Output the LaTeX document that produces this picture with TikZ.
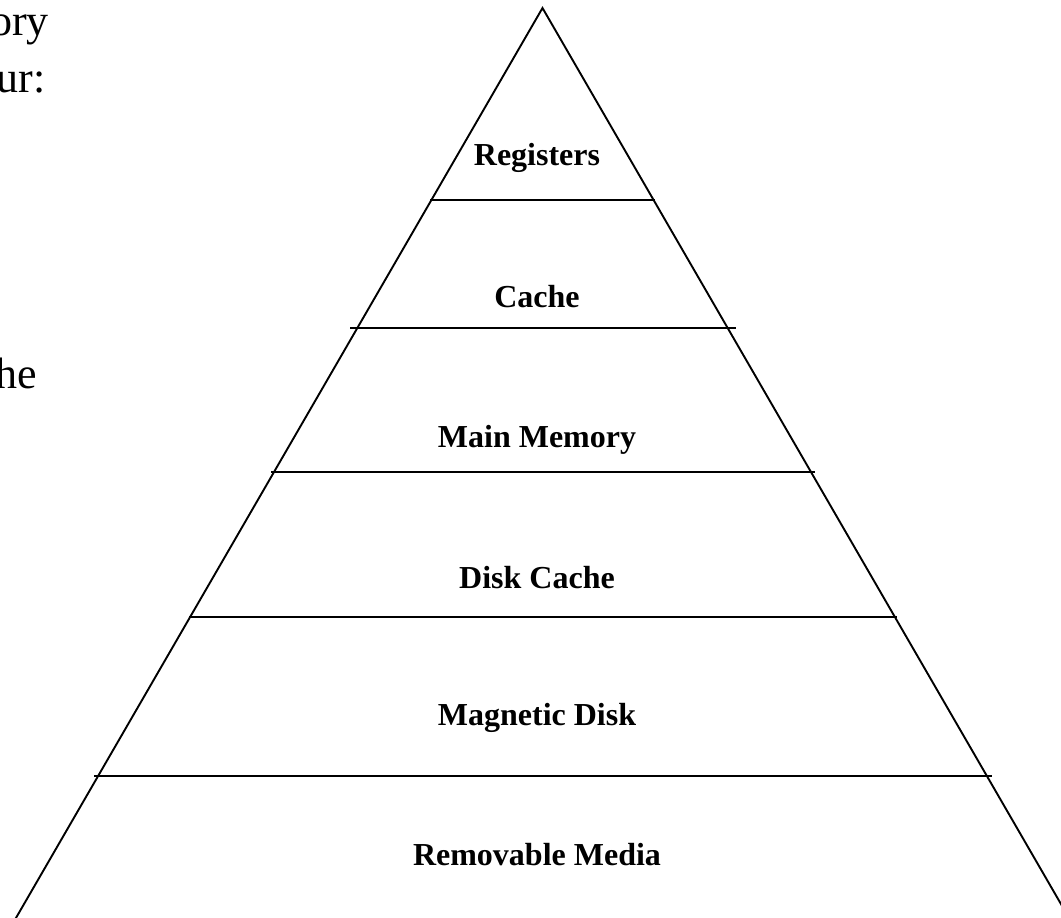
\documentclass[tikz,border=0pt]{standalone}
\usepackage{fontspec}
\setmainfont{Liberation Serif}
\begin{document}
\begin{tikzpicture}[x=1pt,y=-1pt,
  tier/.style={line width=1.9pt},
  level/.style={font=\fontsize{32}{38}\selectfont\bfseries, anchor=base, inner sep=0pt},
  slide/.style={font=\fontsize{44}{52}\selectfont, anchor=base east, inner sep=0pt}]
  \useasboundingbox (0,0) rectangle (1061,918);
  \clip (0,0) rectangle (1061,918);
  % leftover slide text at the left margin
  \node[slide] (t1) at (49,35) {ory};
  \node[slide] (t2) at (46,92) {ur:};
  \node[slide] (t3) at (37,388) {he};
  % pyramid outline
  \coordinate (apex) at (542.5,8);
  \coordinate (bl) at (542.5-533.5,930);
  \coordinate (br) at (542.5+533.5,930);
  \draw[tier, line join=miter] (bl) -- (apex) -- (br);
  % tier dividers
  \coordinate (d1l) at (430,200); \coordinate (d1r) at (655,200);
  \coordinate (d2l) at (350,328); \coordinate (d2r) at (736,328);
  \coordinate (d3l) at (271,472); \coordinate (d3r) at (815,472);
  \coordinate (d4l) at (189,617); \coordinate (d4r) at (897,617);
  \coordinate (d5l) at (94,776);  \coordinate (d5r) at (992,776);
  \draw[tier] (d1l) -- (d1r);
  \draw[tier] (d2l) -- (d2r);
  \draw[tier] (d3l) -- (d3r);
  \draw[tier] (d4l) -- (d4r);
  \draw[tier] (d5l) -- (d5r);
  % tier labels
  \node[level] (reg)  at (537,165) {Registers};
  \node[level] (cac)  at (537,307) {Cache};
  \node[level] (mem)  at (537,447) {Main Memory};
  \node[level] (dc)   at (537,588) {Disk Cache};
  \node[level] (md)   at (537,725) {Magnetic Disk};
  \node[level] (rm)   at (537,865) {Removable Media};
\end{tikzpicture}
\end{document}
